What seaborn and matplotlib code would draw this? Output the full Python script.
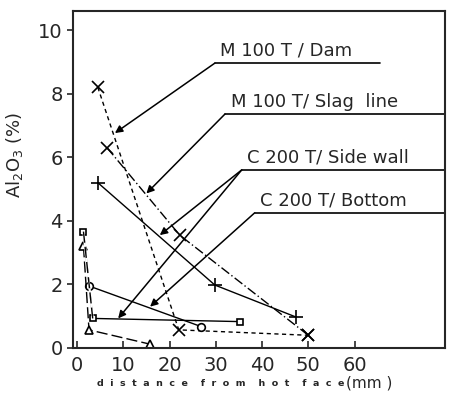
import matplotlib
matplotlib.use('Agg')
import matplotlib.pyplot as plt
import seaborn as sns
import pandas as pd

# data (distance mm, Al2O3 %)
dam_x = [4.5, 22, 50]
dam_y = [8.2, 0.57, 0.4]
slag_x = [6.5, 22.2, 50]
slag_y = [6.3, 3.55, 0.4]
plus_x = [4.5, 29.8, 47.4]
plus_y = [5.2, 1.98, 0.97]
circ_x = [2.6, 26.9]
circ_y = [1.95, 0.67]
sq_x = [1.4, 3.4, 35.2]
sq_y = [3.66, 0.93, 0.83]
tri_x = [1.4, 2.6, 15.8]
tri_y = [3.2, 0.57, 0.12]

x_ticks = [0, 10, 20, 30, 40, 50, 60]
y_ticks = [0, 2, 4, 6, 8, 10]

sns.set_style('ticks')
plt.rcParams['font.family'] = ['DejaVu Sans']

fig = plt.figure(figsize=(4.49, 4.01), dpi=100)
ax = fig.add_axes([0.1626, 0.1322, 0.828, 0.8404])

series = [
    (dam_x, dam_y, 'x', (0, (3, 2.5)), 8, 'black'),
    (slag_x, slag_y, 'x', (0, (7, 2, 1, 2)), 8, 'black'),
    (plus_x, plus_y, '+', '-', 10, 'black'),
    (circ_x, circ_y, 'o', '-', 5.5, 'white'),
    (sq_x, sq_y, 's', '-', 5, 'white'),
    (tri_x, tri_y, '^', (0, (8, 3)), 6, 'white'),
]
for xs, ys, mk, ls, ms, fc in series:
    df = pd.DataFrame({'x': xs, 'y': ys})
    sns.lineplot(data=df, x='x', y='y', ax=ax, sort=False, color='black',
                 linewidth=1.0, linestyle=ls, marker=mk, markersize=ms,
                 markerfacecolor=fc, markeredgecolor='black', markeredgewidth=1.2)
# square line first segment is long dashed
df = pd.DataFrame({'x': sq_x[:2], 'y': sq_y[:2]})
sns.lineplot(data=df, x='x', y='y', ax=ax, sort=False, color='white', linewidth=1.6)
sns.lineplot(data=df, x='x', y='y', ax=ax, sort=False, color='black', linewidth=1.0,
             linestyle=(0, (8, 3)))

# labels with underline and arrows
labels = [
    ('M 100 T / Dam', 29.8, 8.96, 65.4, [(8.2, 6.76)]),
    ('M 100 T/ Slag  line', 32.0, 7.36, 79.5, [(15.0, 4.86)]),
    ('C 200 T/ Side wall', 35.6, 5.60, 79.5, [(17.9, 3.55), (8.9, 0.93)]),
    ('C 200 T/ Bottom', 38.4, 4.25, 79.5, [(15.8, 1.3)]),
]
for txt, x0, y0, x1, tips in labels:
    ax.plot([x0, x1], [y0, y0], color='black', linewidth=1.2)
    ax.text(x0 + 1.2, y0 + 0.1, txt, fontsize=13, va='bottom', ha='left')
    for tip in tips:
        ax.annotate('', xy=tip, xytext=(x0, y0),
                    arrowprops=dict(arrowstyle='-|>', color='black', lw=1.1,
                                    mutation_scale=11, shrinkA=0, shrinkB=0))

ax.set_xlim(-0.86, 79.5)
ax.set_ylim(0, 10.6)
ax.set_xticks(x_ticks)
ax.set_yticks(y_ticks)
ax.tick_params(axis='x', direction='in', length=5, width=1.2, labelsize=14, pad=6)
ax.tick_params(axis='y', direction='out', length=4, width=1.2, labelsize=14)
for sp in ax.spines.values():
    sp.set_linewidth(1.5)

ax.set_ylabel('Al$_2$O$_3$ (%)', fontsize=13)
ax.yaxis.set_label_coords(-0.13, 0.573)
ax.set_xlabel('')
t = ax.text(0.0645, -0.104, 'd  i  s  t  a  n  c  e    f  r  o  m    h  o  t    f  a  c  e',
            transform=ax.transAxes, fontsize=6.8, fontweight='bold', ha='left', va='center')
ax.annotate('(mm )', xy=(1, 0.5), xycoords=t, xytext=(1, 0), textcoords='offset points',
            fontsize=11, ha='left', va='center')

fig.savefig('out.png', dpi=100)
